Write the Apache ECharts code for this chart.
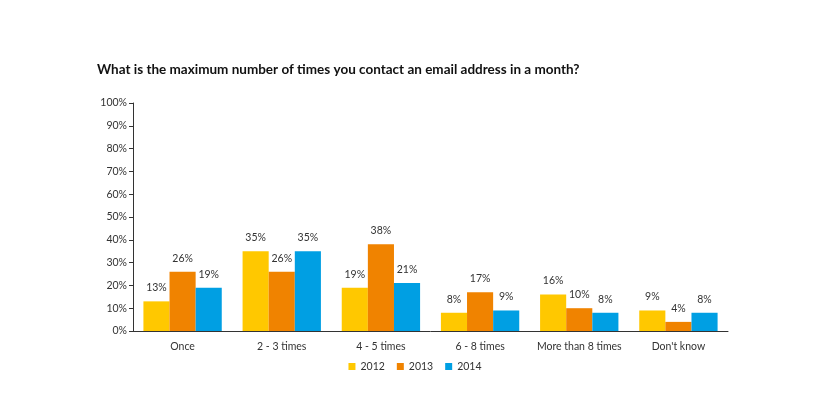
<!DOCTYPE html>
<html>
<head>
<meta charset="utf-8">
<script src="https://cdn.jsdelivr.net/npm/echarts@6/dist/echarts.min.js"></script>
<style>
  html, body { margin: 0; padding: 0; background: #fff; }
  #main { width: 830px; height: 399px; }
</style>
</head>
<body>
<div id="main"></div>
<script>
var categories = ['Once', '2 - 3 times', '4 - 5 times', '6 - 8 times', 'More than 8 times', "Don't know"];
var years = ['2012', '2013', '2014'];
var values2012 = [13, 35, 19, 8, 16, 9];
var values2013 = [26, 26, 38, 17, 10, 4];
var values2014 = [19, 35, 21, 9, 8, 8];
var colors = ['#FFC800', '#F08300', '#009FE3'];

var font = 'Lato';
var chart = echarts.init(document.getElementById('main'));

function makeSeries(name, data) {
    return {
        name: name,
        type: 'bar',
        data: data,
        barGap: 0,
        barCategoryGap: '21%',
        label: {
            show: true,
            position: 'top',
            distance: 8,
            formatter: '{c}%',
            color: '#333',
            fontFamily: font,
            fontSize: 10.5
        }
    };
}

var option = {
    animation: false,
    color: colors,
    title: {
        text: 'What is the maximum number of times you contact an email address in a month?',
        left: 92,
        top: 58,
        textStyle: { fontFamily: font, fontWeight: 'bold', fontSize: 13.5, color: '#111' }
    },
    legend: {
        data: years,
        bottom: 22,
        left: 'center',
        icon: 'rect',
        itemWidth: 7,
        itemHeight: 7,
        itemGap: 12,
        textStyle: { fontFamily: font, fontSize: 10.5, color: '#333' }
    },
    grid: { left: 133, right: 102, top: 103, bottom: 68 },
    xAxis: {
        type: 'category',
        data: categories,
        axisLine: { lineStyle: { color: '#333', width: 1 } },
        axisTick: { show: false },
        axisLabel: { interval: 0, color: '#333', fontFamily: font, fontSize: 10.5, margin: 10 }
    },
    yAxis: {
        type: 'value',
        min: 0,
        max: 100,
        interval: 10,
        axisLine: { show: true, lineStyle: { color: '#333', width: 1 } },
        axisTick: { show: true, length: 4, lineStyle: { color: '#333' } },
        splitLine: { show: false },
        axisLabel: { formatter: '{value}%', color: '#333', fontFamily: font, fontSize: 10.5, margin: 6 }
    },
    series: [
        makeSeries(years[0], values2012),
        makeSeries(years[1], values2013),
        makeSeries(years[2], values2014)
    ]
};
chart.setOption(option);
</script>
</body>
</html>
